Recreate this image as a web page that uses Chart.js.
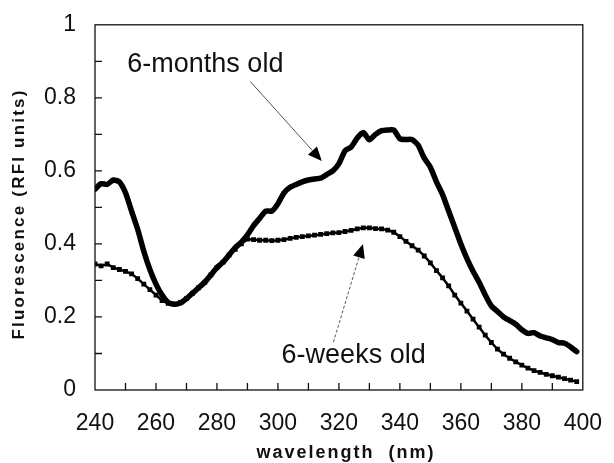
<!DOCTYPE html>
<html>
<head>
<meta charset="utf-8">
<script src="https://cdn.jsdelivr.net/npm/chart.js@4/dist/chart.umd.min.js"></script>
<style>
  html, body { margin: 0; padding: 0; background: #fff; }
  #wrap { width: 614px; height: 463px; }
</style>
</head>
<body>
<div id="wrap"><canvas id="chart" width="614" height="463"></canvas></div>
<script>
const wavelengths = [
  240, 242, 244, 246, 248, 250, 252, 254, 256, 258,
  260, 262, 264, 266, 268, 270, 272, 274, 276, 278,
  280, 282, 284, 286, 288, 290, 292, 294, 296, 298,
  300, 302, 304, 306, 308, 310, 312, 314, 316, 318,
  320, 322, 324, 326, 328, 330, 332, 334, 336, 338,
  340, 342, 344, 346, 348, 350, 352, 354, 356, 358,
  360, 362, 364, 366, 368, 370, 372, 374, 376, 378,
  380, 382, 384, 386, 388, 390, 392, 394, 396, 398
];

const sixMonths = [
  0.55, 0.565, 0.563, 0.575, 0.57, 0.54, 0.49, 0.44, 0.38, 0.33,
  0.29, 0.26, 0.24, 0.235, 0.238, 0.25, 0.265, 0.28, 0.295, 0.315,
  0.335, 0.35, 0.37, 0.39, 0.405, 0.425, 0.45, 0.47, 0.49, 0.49,
  0.51, 0.54, 0.555, 0.563, 0.57, 0.575, 0.578, 0.58, 0.59, 0.60,
  0.62, 0.655, 0.665, 0.69, 0.705, 0.685, 0.70, 0.71, 0.712, 0.712,
  0.688, 0.686, 0.686, 0.67, 0.635, 0.61, 0.57, 0.535, 0.49, 0.445,
  0.40, 0.36, 0.325, 0.295, 0.26, 0.23, 0.215, 0.20, 0.19, 0.18,
  0.165, 0.155, 0.157, 0.148, 0.143, 0.138, 0.13, 0.128, 0.118, 0.105
];

const sixWeeks = [
  0.345, 0.34, 0.345, 0.335, 0.33, 0.325, 0.318, 0.305, 0.29, 0.275,
  0.26, 0.245, 0.237, 0.235, 0.24, 0.25, 0.265, 0.28, 0.295, 0.315,
  0.335, 0.35, 0.37, 0.385, 0.40, 0.413, 0.412, 0.41, 0.41, 0.409,
  0.41, 0.412, 0.415, 0.418, 0.42, 0.422, 0.424, 0.426, 0.428, 0.43,
  0.431, 0.434, 0.437, 0.441, 0.444, 0.444, 0.442, 0.441, 0.438, 0.432,
  0.42, 0.407, 0.395, 0.383, 0.367, 0.348, 0.327, 0.307, 0.285, 0.26,
  0.238, 0.216, 0.194, 0.172, 0.15, 0.13, 0.112, 0.098, 0.087, 0.077,
  0.068, 0.06, 0.053, 0.048, 0.043, 0.039, 0.035, 0.031, 0.027, 0.023
];

const xTitle = "wavelength  (nm)";
const yTitle = "Fluorescence (RFI units)";

// callouts, in data units: [label, textX, textY, arrowFromX, arrowFromY, arrowToX, arrowToY, dashed]
const callouts = [
  ["6-months old", 250.6, 0.872, 290.9, 0.845, 314.4, 0.627, false],
  ["6-weeks old", 301.2, 0.074, 318.2, 0.131, 327.9, 0.40, true]
];

const toPoints = ys => ys.map((y, i) => ({ x: wavelengths[i], y: y }));

/* frame, inner ticks, axis titles and callouts */
const decor = {
  id: "decor",
  afterDraw(chart) {
    const ctx = chart.ctx;
    const a = chart.chartArea;
    const xs = chart.scales.x, ys = chart.scales.y;
    ctx.save();
    ctx.strokeStyle = "#111";
    ctx.lineWidth = 1.3;
    ctx.strokeRect(a.left, a.top, a.right - a.left, a.bottom - a.top);

    ctx.beginPath();
    for (let v = 250; v < 400; v += 10) {
      const px = xs.getPixelForValue(v);
      ctx.moveTo(px, a.bottom);
      ctx.lineTo(px, a.bottom - 7);
    }
    for (let k = 1; k < 10; k++) {
      const py = ys.getPixelForValue(k / 10);
      ctx.moveTo(a.left, py);
      ctx.lineTo(a.left + 7, py);
    }
    ctx.stroke();

    // axis titles
    ctx.fillStyle = "#111";
    ctx.font = "bold 18px 'Liberation Sans', Arial, sans-serif";
    ctx.letterSpacing = "2px";
    ctx.textAlign = "center";
    ctx.textBaseline = "middle";
    ctx.fillText(xTitle, 346, 453);
    ctx.save();
    ctx.translate(19, 214);
    ctx.rotate(-Math.PI / 2);
    ctx.font = "bold 17px 'Liberation Sans', Arial, sans-serif";
    ctx.letterSpacing = "2.2px";
    ctx.fillText(yTitle, 0, 0);
    ctx.restore();
    ctx.letterSpacing = "0px";

    // callouts
    callouts.forEach(c => {
      const tx = xs.getPixelForValue(c[1]), ty = ys.getPixelForValue(c[2]);
      ctx.font = "27px 'Liberation Sans', Arial, sans-serif";
      ctx.textAlign = "left";
      ctx.textBaseline = "alphabetic";
      ctx.fillStyle = "#111";
      ctx.fillText(c[0], tx, ty);

      const x0 = xs.getPixelForValue(c[3]), y0 = ys.getPixelForValue(c[4]);
      const x1 = xs.getPixelForValue(c[5]), y1 = ys.getPixelForValue(c[6]);
      const ang = Math.atan2(y1 - y0, x1 - x0);
      const head = 14, half = 6;
      const bx = x1 - head * Math.cos(ang), by = y1 - head * Math.sin(ang);
      ctx.strokeStyle = "#555";
      ctx.lineWidth = 1;
      ctx.setLineDash(c[7] ? [3, 2] : []);
      ctx.beginPath();
      ctx.moveTo(x0, y0);
      ctx.lineTo(bx, by);
      ctx.stroke();
      ctx.setLineDash([]);
      ctx.fillStyle = "#000";
      ctx.beginPath();
      ctx.moveTo(x1, y1);
      ctx.lineTo(bx + half * Math.sin(ang), by - half * Math.cos(ang));
      ctx.lineTo(bx - half * Math.sin(ang), by + half * Math.cos(ang));
      ctx.closePath();
      ctx.fill();
    });
    ctx.restore();
  }
};

new Chart(document.getElementById("chart"), {
  type: "line",
  data: {
    datasets: [
      {
        label: "6-weeks old",
        data: toPoints(sixWeeks),
        borderColor: "#000",
        backgroundColor: "#000",
        borderWidth: 2.5,
        pointStyle: "rect",
        pointRadius: 3.4,
        pointBorderWidth: 0,
        tension: 0
      },
      {
        label: "6-months old",
        data: toPoints(sixMonths),
        borderColor: "#000",
        borderWidth: 5.5,
        pointRadius: 0,
        tension: 0.2,
        borderJoinStyle: "round",
        borderCapStyle: "round"
      }
    ]
  },
  options: {
    responsive: false,
    animation: false,
    layout: { padding: { top: 23, right: 22, left: 0, bottom: 0 } },
    plugins: { legend: { display: false }, tooltip: { enabled: false } },
    scales: {
      x: {
        type: "linear",
        min: 240,
        max: 400,
        grid: { display: false },
        border: { display: false },
        afterFit: s => { s.height = 73; },
        ticks: {
          stepSize: 20,
          padding: 12,
          color: "#111",
          font: { family: "'Liberation Sans', Arial, sans-serif", size: 23 }
        }
      },
      y: {
        min: 0,
        max: 1,
        grid: { display: false },
        border: { display: false },
        afterFit: s => { s.width = 95; },
        ticks: {
          stepSize: 0.2,
          padding: 11,
          color: "#111",
          font: { family: "'Liberation Sans', Arial, sans-serif", size: 23 },
          callback: v => String(Math.round(v * 10) / 10)
        }
      }
    }
  },
  plugins: [decor]
});
</script>
</body>
</html>
